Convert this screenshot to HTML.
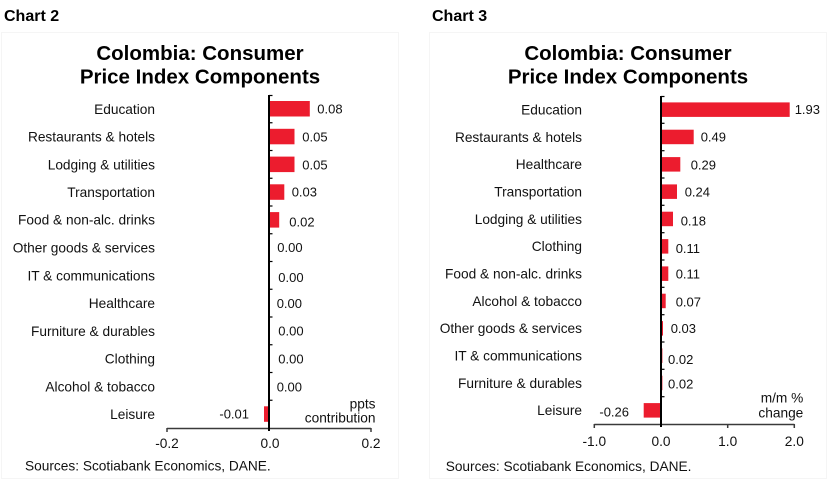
<!DOCTYPE html>
<html><head><meta charset="utf-8"><style>
html,body{margin:0;padding:0;background:#fff;}
svg{display:block;}
text{font-family:"Liberation Sans",Arial,sans-serif;fill:#111;}
.cat{font-size:13.7px;text-anchor:end;}
.val{font-size:13px;}
.tick{font-size:13.7px;text-anchor:middle;}
.title{font-size:20.5px;font-weight:bold;text-anchor:middle;fill:#000;}
.hdr{font-size:16px;font-weight:bold;fill:#000;}
.src{font-size:13.7px;}
.unit{font-size:13.7px;text-anchor:end;}
</style></head><body>
<svg width="828" height="482" viewBox="0 0 828 482" xmlns="http://www.w3.org/2000/svg">
<rect x="0" y="0" width="828" height="482" fill="#fff"/>
<!-- faint frames -->
<rect x="1.5" y="32.5" width="397" height="446" fill="none" stroke="#f5f5f5" stroke-width="1"/>
<rect x="429.5" y="32.5" width="397" height="446" fill="none" stroke="#f5f5f5" stroke-width="1"/>

<text class="hdr" x="4" y="21">Chart 2</text>
<text class="hdr" x="432" y="21">Chart 3</text>

<!-- ===== Chart 2 ===== -->
<text class="title" x="200" y="60">Colombia: Consumer</text>
<text class="title" x="200" y="83.3">Price Index Components</text>

<g fill="#ec1c2e">
<rect x="269" y="101" width="40.8" height="15.5"/>
<rect x="269" y="128.8" width="25.5" height="15.5"/>
<rect x="269" y="156.6" width="25.5" height="15.5"/>
<rect x="269" y="184.3" width="15.3" height="15.5"/>
<rect x="269" y="212.1" width="10.2" height="15.5"/>
<rect x="264" y="406.3" width="5" height="15.5"/>
</g>

<g>
<text class="cat" x="155" y="113.8">Education</text>
<text class="cat" x="155" y="141.5">Restaurants &amp; hotels</text>
<text class="cat" x="155" y="169.3">Lodging &amp; utilities</text>
<text class="cat" x="155" y="197">Transportation</text>
<text class="cat" x="155" y="224.3">Food &amp; non-alc. drinks</text>
<text class="cat" x="155" y="252.5">Other goods &amp; services</text>
<text class="cat" x="155" y="280.3">IT &amp; communications</text>
<text class="cat" x="155" y="308">Healthcare</text>
<text class="cat" x="155" y="335.8">Furniture &amp; durables</text>
<text class="cat" x="155" y="363.5">Clothing</text>
<text class="cat" x="155" y="391.3">Alcohol &amp; tobacco </text>
<text class="cat" x="155" y="419">Leisure</text>
</g>

<g class="val">
<text class="val" x="317.3" y="113.4">0.08</text>
<text class="val" x="302.3" y="141.4">0.05</text>
<text class="val" x="302.3" y="169.4">0.05</text>
<text class="val" x="291.7" y="196.7">0.03</text>
<text class="val" x="289.3" y="226.4">0.02</text>
<text class="val" x="277.3" y="252">0.00</text>
<text class="val" x="278.3" y="282">0.00</text>
<text class="val" x="276.7" y="308">0.00</text>
<text class="val" x="278.3" y="335.4">0.00</text>
<text class="val" x="278.3" y="363.4">0.00</text>
<text class="val" x="276.7" y="391.4">0.00</text>
<text class="val" x="249" y="418.7" text-anchor="end">-0.01</text>
</g>

<!-- axes chart 2 -->
<line x1="167" y1="428.5" x2="371" y2="428.5" stroke="#3a3a3a" stroke-width="1.5"/>
<line x1="167" y1="428" x2="167" y2="432" stroke="#3a3a3a" stroke-width="1.5"/>
<line x1="371" y1="428" x2="371" y2="432" stroke="#3a3a3a" stroke-width="1.5"/>
<line x1="269" y1="95" x2="269" y2="431" stroke="#000" stroke-width="2"/>
<g stroke="#000" stroke-width="1.2">
<line x1="269" y1="95.5" x2="272.5" y2="95.5"/>
<line x1="269" y1="122.75" x2="272.5" y2="122.75"/>
<line x1="269" y1="150.5" x2="272.5" y2="150.5"/>
<line x1="269" y1="178.25" x2="272.5" y2="178.25"/>
<line x1="269" y1="206" x2="272.5" y2="206"/>
<line x1="269" y1="233.75" x2="272.5" y2="233.75"/>
<line x1="269" y1="261.5" x2="272.5" y2="261.5"/>
<line x1="269" y1="289.25" x2="272.5" y2="289.25"/>
<line x1="269" y1="317" x2="272.5" y2="317"/>
<line x1="269" y1="344.75" x2="272.5" y2="344.75"/>
<line x1="269" y1="372.5" x2="272.5" y2="372.5"/>
<line x1="269" y1="400.25" x2="272.5" y2="400.25"/>
</g>
<text class="tick" x="167" y="448">-0.2</text>
<text class="tick" x="270" y="448">0.0</text>
<text class="tick" x="371" y="448">0.2</text>
<text class="unit" x="375.5" y="408.3">ppts</text>
<text class="unit" x="375.5" y="422.3">contribution</text>
<text class="src" x="25" y="470.5">Sources: Scotiabank Economics, DANE.</text>

<!-- ===== Chart 3 ===== -->
<text class="title" x="628" y="60">Colombia: Consumer</text>
<text class="title" x="628" y="83.3">Price Index Components</text>

<g fill="#ec1c2e">
<rect x="661" y="102.4" width="128.7" height="14.5"/>
<rect x="661" y="129.7" width="32.7" height="14.5"/>
<rect x="661" y="157.1" width="19.3" height="14.5"/>
<rect x="661" y="184.4" width="16" height="14.5"/>
<rect x="661" y="211.7" width="12" height="14.5"/>
<rect x="661" y="239.1" width="7.3" height="14.5"/>
<rect x="661" y="266.4" width="7.3" height="14.5"/>
<rect x="661" y="293.7" width="4.7" height="14.5"/>
<rect x="661" y="321.1" width="2" height="14.5"/>
<rect x="661" y="348.4" width="1.4" height="14.5"/>
<rect x="661" y="375.7" width="1.4" height="14.5"/>
<rect x="643.7" y="403.1" width="17.3" height="14.5"/>
</g>

<g>
<text class="cat" x="582" y="114.6">Education</text>
<text class="cat" x="582" y="141.9">Restaurants &amp; hotels</text>
<text class="cat" x="582" y="169.2">Healthcare</text>
<text class="cat" x="582" y="196.6">Transportation</text>
<text class="cat" x="582" y="223.9">Lodging &amp; utilities</text>
<text class="cat" x="582" y="251.2">Clothing</text>
<text class="cat" x="582" y="278.6">Food &amp; non-alc. drinks</text>
<text class="cat" x="582" y="305.9">Alcohol &amp; tobacco </text>
<text class="cat" x="582" y="333.2">Other goods &amp; services</text>
<text class="cat" x="582" y="360.6">IT &amp; communications</text>
<text class="cat" x="582" y="387.9">Furniture &amp; durables</text>
<text class="cat" x="582" y="415.2">Leisure</text>
</g>

<g>
<text class="val" x="794.7" y="114">1.93</text>
<text class="val" x="700.7" y="141.4">0.49</text>
<text class="val" x="690.7" y="169.4">0.29</text>
<text class="val" x="684.7" y="196.7">0.24</text>
<text class="val" x="680.7" y="225.7">0.18</text>
<text class="val" x="675.7" y="253">0.11</text>
<text class="val" x="675.7" y="278.7">0.11</text>
<text class="val" x="675.7" y="306.4">0.07</text>
<text class="val" x="670.7" y="333">0.03</text>
<text class="val" x="668" y="364">0.02</text>
<text class="val" x="668" y="388.7">0.02</text>
<text class="val" x="629" y="416.4" text-anchor="end">-0.26</text>
</g>

<!-- axes chart 3 -->
<line x1="594.3" y1="424.5" x2="794.3" y2="424.5" stroke="#3a3a3a" stroke-width="1.5"/>
<line x1="594.3" y1="424" x2="594.3" y2="428" stroke="#3a3a3a" stroke-width="1.5"/>
<line x1="727.7" y1="424" x2="727.7" y2="428" stroke="#3a3a3a" stroke-width="1.5"/>
<line x1="794.3" y1="424" x2="794.3" y2="428" stroke="#3a3a3a" stroke-width="1.5"/>
<line x1="661" y1="96" x2="661" y2="427" stroke="#000" stroke-width="2"/>
<g stroke="#000" stroke-width="1.2">
<line x1="661" y1="96.5" x2="664.5" y2="96.5"/>
<line x1="661" y1="123.3" x2="664.5" y2="123.3"/>
<line x1="661" y1="150.7" x2="664.5" y2="150.7"/>
<line x1="661" y1="178" x2="664.5" y2="178"/>
<line x1="661" y1="205.3" x2="664.5" y2="205.3"/>
<line x1="661" y1="232.7" x2="664.5" y2="232.7"/>
<line x1="661" y1="260" x2="664.5" y2="260"/>
<line x1="661" y1="287.3" x2="664.5" y2="287.3"/>
<line x1="661" y1="314.7" x2="664.5" y2="314.7"/>
<line x1="661" y1="342" x2="664.5" y2="342"/>
<line x1="661" y1="369.3" x2="664.5" y2="369.3"/>
<line x1="661" y1="396.7" x2="664.5" y2="396.7"/>
</g>
<text class="tick" x="594.3" y="446">-1.0</text>
<text class="tick" x="661" y="446">0.0</text>
<text class="tick" x="727.7" y="446">1.0</text>
<text class="tick" x="794.3" y="446">2.0</text>
<text class="unit" x="803.3" y="402.3">m/m %</text>
<text class="unit" x="803.3" y="417.3">change</text>
<text class="src" x="445.7" y="471">Sources: Scotiabank Economics, DANE.</text>
</svg>
</body></html>
